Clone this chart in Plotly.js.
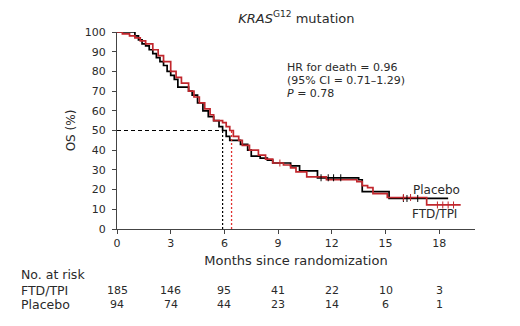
<!DOCTYPE html>
<html><head><meta charset="utf-8">
<script src="https://cdn.plot.ly/plotly-3.0.1.min.js"></script>
<style>html,body{margin:0;padding:0;background:#fff}#c{width:520px;height:326px}</style>
</head><body><div id="c"></div>
<script>
// FTD/TPI (red) Kaplan-Meier steps
const ftdT = [0,0.3,0.7,1.0,1.3,1.6,2.0,2.3,2.6,3.0,3.3,3.6,4.0,4.3,4.6,4.9,5.2,5.4,5.9,6.1,6.3,6.5,6.8,7.0,7.4,7.9,8.3,8.7,9.3,9.7,10.0,10.6,11.7,13.4,13.7,14.0,14.3,15.1,17.3,19.2];
const ftdS = [100,99,98,97,95.5,94,91,88,85,80,77,74,70,67,64,61,58,55,54,52,50,47,45,42.5,40,37.5,35.5,33.5,32.5,31,29,26.5,25,24,22,21,18,16,12.2,12.2];
// Placebo (black)
const plaT = [0,1.0,1.2,1.4,1.6,1.8,2.0,2.2,2.4,2.6,2.8,3.0,3.2,3.4,4.0,4.2,4.5,4.8,5.1,5.4,5.7,5.9,6.1,6.3,6.9,7.3,7.5,8.0,8.4,8.7,9.7,10.2,11.2,13.5,13.7,15.2,18.5];
const plaS = [100,98,96,94,93,91,89,87,85,83,80,78,76,72,70,68,64,60,57,55,52,50,47,45,43,40,37,36,35,33.5,32,29.5,26,25,19,15.5,15.5];
// censor marks
const ftdCensT = [9.1,16.0,16.4,17.9,18.2,18.5,18.8];
const plaCensT = [11.4,11.8,12.1,12.5,16.0,16.2,16.8];
// medians
const medFtd = 6.4, medPla = 5.9;
// at-risk table
const riskTimes = [0,3,6,9,12,15,18];
const riskFtd = [185,146,95,41,22,10,3];
const riskPla = [94,74,44,23,14,6,1];
const hrLines = ['HR for death = 0.96','(95% CI = 0.71–1.29)','<i>P</i> = 0.78'];

function stepAt(T,S,t){let v=S[0];for(let i=0;i<T.length;i++){if(T[i]<=t)v=S[i];}return v;}
const red = '#c1272d', blk = '#000000', txt = '#2a2a2a';
const fnt = '"DejaVu Sans", sans-serif';

const traces = [
 {x:plaT,y:plaS,mode:'lines',line:{shape:'hv',color:blk,width:1.7},showlegend:false,hoverinfo:'skip'},
 {x:ftdT,y:ftdS,mode:'lines',line:{shape:'hv',color:red,width:1.7},showlegend:false,hoverinfo:'skip'},
 {x:plaCensT,y:plaCensT.map(t=>stepAt(plaT,plaS,t)),mode:'markers',marker:{symbol:'line-ns',size:5,line:{color:blk,width:1}},showlegend:false,hoverinfo:'skip'},
 {x:ftdCensT,y:ftdCensT.map(t=>stepAt(ftdT,ftdS,t)),mode:'markers',marker:{symbol:'line-ns',size:5,line:{color:red,width:1}},showlegend:false,hoverinfo:'skip'}
];

const shapes = [
 {type:'line',xref:'x',yref:'y',x0:0,x1:medPla,y0:50,y1:50,line:{color:blk,width:1,dash:'4px,3px'}},
 {type:'line',xref:'x',yref:'y',x0:medPla,x1:medPla,y0:0,y1:50,line:{color:blk,width:1.2,dash:'2px,2px'}},
 {type:'line',xref:'x',yref:'y',x0:medFtd,x1:medFtd,y0:0,y1:stepAt(ftdT,ftdS,medFtd),line:{color:'#e0302f',width:1.3,dash:'2px,2px'}}
];

const ann = [];
hrLines.forEach((s,i)=>ann.push({xref:'paper',yref:'paper',x:(285-117)/358,y:(229-(67+13*i))/197,xanchor:'left',yanchor:'middle',showarrow:false,text:s,font:{family:fnt,size:11,color:txt}}));
ann.push({xref:'paper',yref:'paper',x:(411-117)/358,y:(229-190)/197,xanchor:'left',yanchor:'middle',showarrow:false,text:'Placebo',font:{family:fnt,size:12,color:txt}});
ann.push({xref:'paper',yref:'paper',x:(410-117)/358,y:(229-214)/197,xanchor:'left',yanchor:'middle',showarrow:false,text:'FTD/TPI',font:{family:fnt,size:12,color:txt}});
ann.push({xref:'paper',yref:'paper',x:(19-117)/358,y:(229-274)/197,xanchor:'left',yanchor:'middle',showarrow:false,text:'No. at risk',font:{family:fnt,size:12.5,color:txt}});
ann.push({xref:'paper',yref:'paper',x:(19-117)/358,y:(229-290)/197,xanchor:'left',yanchor:'middle',showarrow:false,text:'FTD/TPI',font:{family:fnt,size:12.5,color:txt}});
ann.push({xref:'paper',yref:'paper',x:(19-117)/358,y:(229-304)/197,xanchor:'left',yanchor:'middle',showarrow:false,text:'Placebo',font:{family:fnt,size:12.5,color:txt}});
riskTimes.forEach((t,i)=>{
 ann.push({xref:'x',yref:'paper',x:t,y:(229-290)/197,xanchor:'center',yanchor:'middle',showarrow:false,text:String(riskFtd[i]),font:{family:fnt,size:11,color:txt}});
 ann.push({xref:'x',yref:'paper',x:t,y:(229-304)/197,xanchor:'center',yanchor:'middle',showarrow:false,text:String(riskPla[i]),font:{family:fnt,size:11,color:txt}});
});

const layout = {
 width:520,height:326,margin:{l:117,r:45,t:32,b:97},
 paper_bgcolor:'#fff',plot_bgcolor:'#fff',
 font:{family:fnt,size:11,color:txt},
 title:{text:'<i>KRAS</i><sup>G12</sup> mutation',x:0.57,xref:'container',y:1-18/326,yref:'container',xanchor:'center',yanchor:'middle',font:{family:fnt,size:13,color:txt}},
 xaxis:{range:[0,20],tickvals:riskTimes,ticks:'outside',ticklen:4,tickcolor:'#444',showline:true,linecolor:'#444',linewidth:1,
   showgrid:false,zeroline:false,fixedrange:true,tickfont:{size:11},
   title:{text:'Months since randomization',standoff:6,font:{size:13}}},
 yaxis:{range:[0,100],dtick:10,ticks:'outside',ticklen:4,tickcolor:'#444',showline:true,linecolor:'#444',linewidth:1,
   showgrid:false,zeroline:false,fixedrange:true,tickfont:{size:11},ticklabelstandoff:4,
   title:{text:'OS (%)',standoff:6,font:{size:12}}},
 shapes:shapes,annotations:ann,showlegend:false
};
Plotly.newPlot('c',traces,layout,{displayModeBar:false,staticPlot:true});
</script></body></html>
